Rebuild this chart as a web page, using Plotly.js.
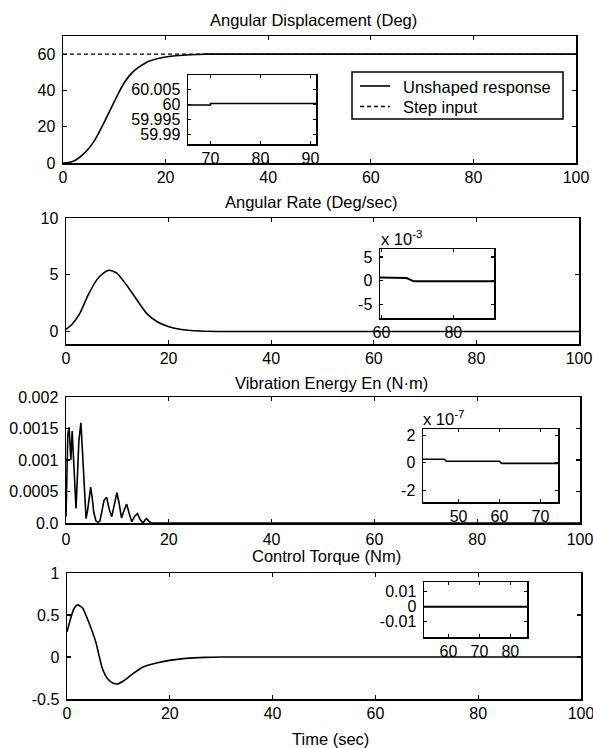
<!DOCTYPE html>
<html>
<head>
<meta charset="utf-8">
<script src="https://cdn.plot.ly/plotly-3.0.1.min.js"></script>
<style>html,body{margin:0;padding:0;background:#fff;}#chart{width:593px;height:748px;}</style>
</head>
<body>
<div id="chart"></div>
<script>
// ---------- data ----------
const dispTime = [0,1,2,3,4,5,6,7,8,9,10,11,12,13,14,15,16,17,18,19,20,22,24,26,28,100];
const dispDeg  = [0,0.2,1.0,2.6,5.0,8.0,11.8,16.8,22.3,28,33.8,39.5,44.5,48.3,51.2,53.3,55,56.3,57.2,57.9,58.4,59.1,59.5,59.8,60,60];
const stepTime = [0,100];
const stepDeg  = [60,60];

const rateTime = [0,1.1,2.7,4.3,6,7.3,8.4,9.9,11.8,13.8,15.7,17.7,19.9,22.2,26.1,30,100];
const rateVal  = [0.2,0.6,1.6,3.2,4.55,5.15,5.4,5.15,4.1,2.8,1.6,0.88,0.44,0.2,0.04,0,0];

const energyTime = [0,0.15,0.35,0.6,0.8,0.95,1.2,1.45,1.7,1.95,2.2,2.5,2.9,3.2,3.5,3.9,4.2,4.5,4.8,5.1,5.4,5.8,6.2,6.6,7.0,7.4,7.9,8.4,8.9,9.4,9.9,10.3,10.8,11.3,11.8,12.3,12.8,13.3,13.9,14.4,15.0,15.4,15.7,16.1,16.6,17.5,100];
const energyVal  = [0.0001,0.0009,0.0014,0.00152,0.0011,0.001,0.00146,0.0011,0.0006,0.00023,0.0007,0.0013,0.00159,0.0011,0.0005,0.00007,0.0002,0.0004,0.00057,0.0004,0.00017,0.00004,0.00001,0.00003,0.0002,0.00036,0.00041,0.00022,0.0001,0.0003,0.00048,0.00033,0.00008,0.0002,0.0003,0.00015,0.00002,0.0001,0.00015,0.00006,0.0,0.00005,0.00007,0.00003,0.0,0.0,0.0];

const torqueTime = [0,0.8,1.4,2.07,3.05,3.8,4.7,5.6,6.3,6.9,7.9,8.9,9.9,11.1,12.8,14.8,17.4,19.9,23.1,27,30,100];
const torqueVal  = [0.3,0.48,0.58,0.62,0.58,0.48,0.34,0.18,0,-0.14,-0.26,-0.31,-0.32,-0.28,-0.2,-0.12,-0.072,-0.04,-0.016,-0.004,0,0];

// insets
const inset1Time = [65,70,70,92];
const inset1Deg  = [59.9998,59.9998,60.0003,60.0003];
const inset2Time = [59.6,67,69,91.3];
const inset2E3   = [0.7,0.6,-0.1,-0.1];     // x 10^-3
const inset3Time = [41.3,46.5,47,60,60.5,74.3];
const inset3E7   = [0.25,0.25,0.1,0.1,-0.05,-0.05]; // x 10^-7
const inset4Time = [52,86];
const inset4Val  = [0,0];

// ticks
const mainXTicks = [0,20,40,60,80,100];
const dispTicks = [0,20,40,60];
const rateTicks = [0,5,10];
const energyTicks = [0,0.0005,0.001,0.0015,0.002];
const energyTickText = ['0.0','0.0005','0.001','0.0015','0.002'];
const torqueTicks = [-0.5,0,0.5,1];
const torqueTickText = ['-0.5','0','0.5','1'];
const inset1XTicks = [70,80,90];
const inset1YTicks = [59.99,59.995,60,60.005];
const inset1YText  = ['59.99','59.995','60','60.005'];
const inset2XTicks = [60,80];
const inset2YTicks = [-5,0,5];
const inset2YText  = ['-5','0','5'];
const inset3XTicks = [50,60,70];
const inset3YTicks = [-2,0,2];
const inset3YText  = ['-2','0','2'];
const inset4XTicks = [60,70,80];
const inset4YTicks = [-0.01,0,0.01];
const inset4YText  = ['-0.01','0','0.01'];

const titles = ['Angular Displacement (Deg)','Angular Rate (Deg/sec)','Vibration Energy En (N·m)','Control Torque (Nm)'];
const legendNames = ['Unshaped response','Step input'];

// ---------- layout helpers ----------
const W = 593, H = 748;
const FONT = 'Liberation Sans, Arial, Helvetica, sans-serif';
const dx = (a,b) => [a/W, b/W];
const dy = (t,b) => [1-b/H, 1-t/H];
const px = v => v/W;
const py = v => 1-v/H;

function ax(extra) {
  return Object.assign({
    showline: true, mirror: 'allticks', linecolor: '#000', linewidth: 1.5,
    ticks: 'inside', ticklen: 4, tickwidth: 1.2, tickcolor: '#000',
    showgrid: false, zeroline: false, fixedrange: true,
    tickfont: {family: FONT, size: 16, color: '#000'},
    ticklabeloverflow: 'allow'
  }, extra);
}
const X = e => ax(Object.assign({ticklabelstandoff: -1}, e));
const Y = e => ax(Object.assign({ticklabelstandoff: 3}, e));

const line = {color: '#000', width: 1.6};
const traces = [
  {x: dispTime, y: dispDeg, xaxis:'x', yaxis:'y', mode:'lines', name:legendNames[0], showlegend:false, line: Object.assign({shape:'spline', smoothing:0.6}, line)},
  {x: stepTime, y: stepDeg, xaxis:'x', yaxis:'y', mode:'lines', name:legendNames[1], showlegend:false, line:{color:'#000', width:1.4, dash:'4px,3px'}},
  {x: rateTime, y: rateVal, xaxis:'x2', yaxis:'y2', mode:'lines', showlegend:false, line: Object.assign({shape:'spline', smoothing:0.6}, line)},
  {x: energyTime, y: energyVal, xaxis:'x3', yaxis:'y3', mode:'lines', showlegend:false, line: line},
  {x: torqueTime, y: torqueVal, xaxis:'x4', yaxis:'y4', mode:'lines', showlegend:false, line: Object.assign({shape:'spline', smoothing:0.6}, line)},
  {x: inset1Time, y: inset1Deg, xaxis:'x5', yaxis:'y5', mode:'lines', showlegend:false, line: line},
  {x: inset2Time, y: inset2E3, xaxis:'x6', yaxis:'y6', mode:'lines', showlegend:false, line: {color:'#000', width:2}},
  {x: inset3Time, y: inset3E7, xaxis:'x7', yaxis:'y7', mode:'lines', showlegend:false, line: line},
  {x: inset4Time, y: inset4Val, xaxis:'x8', yaxis:'y8', mode:'lines', showlegend:false, line: {color:'#000', width:2}}
];

const annFont = {family: FONT, size: 16.5, color: '#000'};
const layout = {
  width: W, height: H,
  margin: {l:0, r:0, t:0, b:0},
  paper_bgcolor: '#fff', plot_bgcolor: '#fff',
  font: {family: FONT, size: 16, color: '#000'},
  showlegend: false,
  // main panels
  xaxis:  X({domain: dx(63,576), range:[0,100], tickvals: mainXTicks, anchor:'y'}),
  yaxis:  Y({domain: dy(36,163), range:[0,70], tickvals: dispTicks, anchor:'x'}),
  xaxis2: X({domain: dx(66,579), range:[0,100], tickvals: mainXTicks, anchor:'y2'}),
  yaxis2: Y({domain: dy(218,344), range:[-1.1,10], tickvals: rateTicks, anchor:'x2'}),
  xaxis3: X({domain: dx(66,580), range:[0,100], tickvals: mainXTicks, anchor:'y3', ticklabelstandoff: 1}),
  yaxis3: Y({domain: dy(397,523), range:[0,0.002], tickvals: energyTicks, ticktext: energyTickText, anchor:'x3'}),
  xaxis4: X({domain: dx(67,581), range:[0,100], tickvals: mainXTicks, anchor:'y4'}),
  yaxis4: Y({domain: dy(573,699), range:[-0.5,1], tickvals: torqueTicks, ticktext: torqueTickText, anchor:'x4'}),
  // insets
  xaxis5: X({domain: dx(188,316), range:[65.5,91.1], tickvals: inset1XTicks, anchor:'y5', ticklen:3}),
  yaxis5: Y({domain: dy(75,144), range:[59.9868,60.0098], tickvals: inset1YTicks, ticktext: inset1YText, anchor:'x5', ticklen:3}),
  xaxis6: X({domain: dx(380,494), range:[59.6,91.3], tickvals: inset2XTicks, anchor:'y6', ticklen:3}),
  yaxis6: Y({domain: dy(249,318), range:[-7.8,6.7], tickvals: inset2YTicks, ticktext: inset2YText, anchor:'x6', ticklen:3}),
  xaxis7: X({domain: dx(423,558), range:[41.3,74.3], tickvals: inset3XTicks, anchor:'y7', ticklen:3}),
  yaxis7: Y({domain: dy(429,502), range:[-2.86,2.45], tickvals: inset3YTicks, ticktext: inset3YText, anchor:'x7', ticklen:3}),
  xaxis8: X({domain: dx(424,527), range:[52.1,85.4], tickvals: inset4XTicks, anchor:'y8', ticklen:3}),
  yaxis8: Y({domain: dy(582,637), range:[-0.02,0.0163], tickvals: inset4YTicks, ticktext: inset4YText, anchor:'x8', ticklen:3}),
  // legend box (drawn in paper space)
  shapes: [
    {type:'rect', xref:'paper', yref:'paper', x0:px(352), x1:px(563), y0:py(72), y1:py(119), line:{color:'#000', width:1.5}, fillcolor:'#fff', layer:'above'},
    {type:'line', xref:'paper', yref:'paper', x0:px(360), x1:px(390), y0:py(86), y1:py(86), line:{color:'#000', width:1.6}},
    {type:'line', xref:'paper', yref:'paper', x0:px(360), x1:px(390), y0:py(106.5), y1:py(106.5), line:{color:'#000', width:1.4, dash:'4px,3px'}}
  ],
  annotations: [
    {text: titles[0], x: px(313), y: py(19.5)},
    {text: titles[1], x: px(311), y: py(202.3)},
    {text: titles[2], x: px(331), y: py(382.7)},
    {text: titles[3], x: px(326), y: py(555.7)},
    {text: 'Time (sec)', x: px(330), y: py(738.5)},
    {text: 'x 10<sup>-3</sup>', x: px(379), y: py(238), xanchor:'left'},
    {text: 'x 10<sup>-7</sup>', x: px(421), y: py(418), xanchor:'left'},
    {text: legendNames[0], x: px(401), y: py(87), xanchor:'left'},
    {text: legendNames[1], x: px(401), y: py(107.5), xanchor:'left'}
  ].map(a => Object.assign({xref:'paper', yref:'paper', showarrow:false, xanchor:'center', yanchor:'middle', font: annFont}, a))
};

Plotly.newPlot('chart', traces, layout, {staticPlot: true, displayModeBar: false});
</script>
</body>
</html>
